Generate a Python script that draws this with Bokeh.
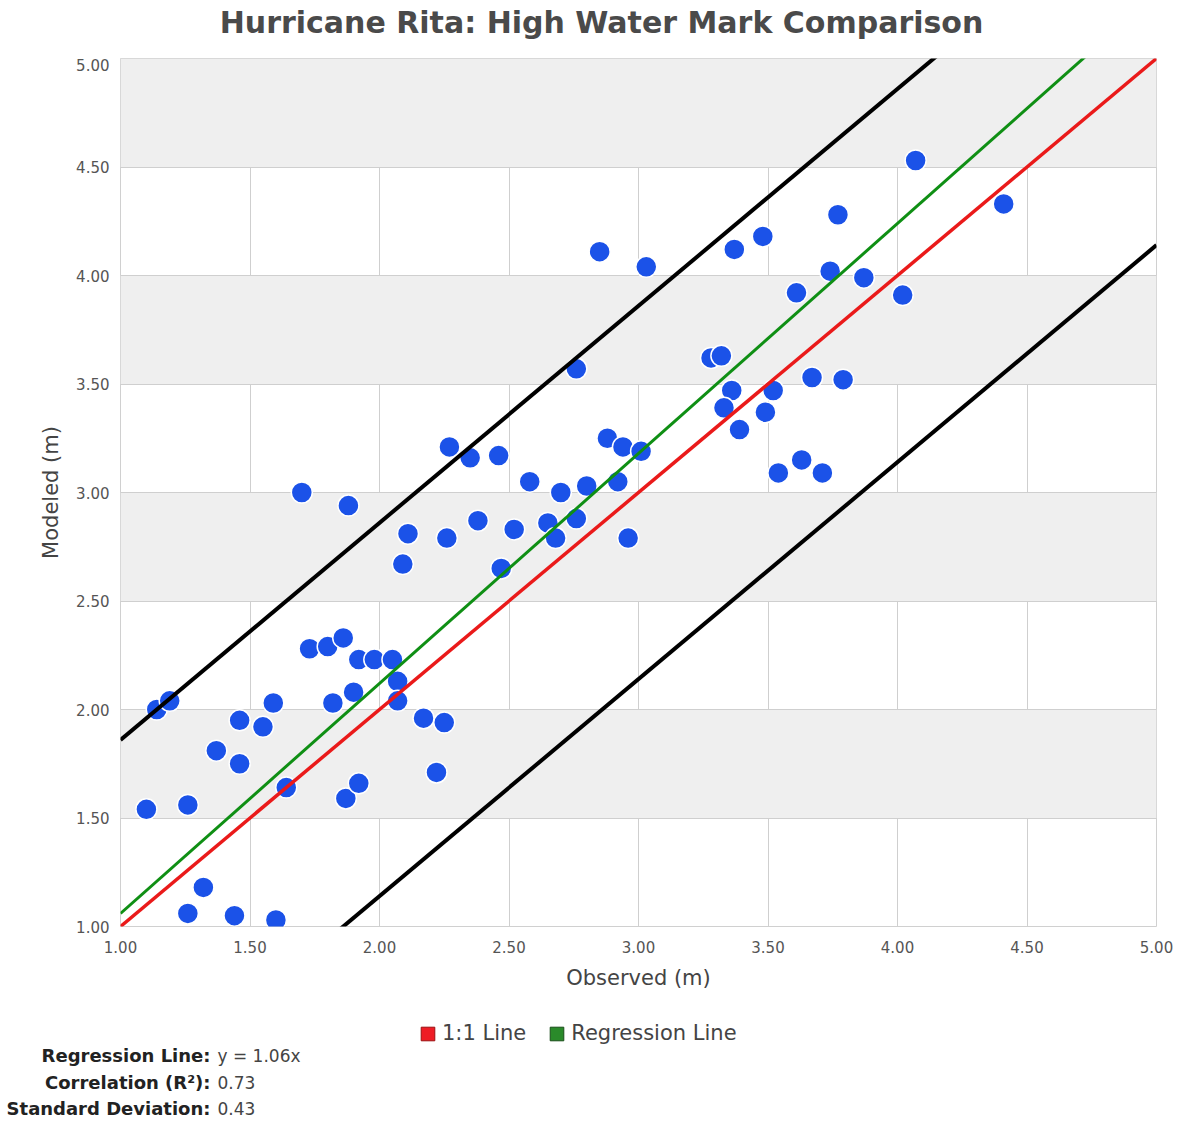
from bokeh.plotting import figure
from bokeh.layouts import column
from bokeh.models import (ColumnDataSource, Legend, LegendItem, Range1d,
                          FixedTicker, NumeralTickFormatter)
from bokeh.core.properties import value
from bokeh.embed import file_html
from bokeh.resources import INLINE

# ---------------- data ----------------
observed = [1.10, 1.14, 1.19, 1.26, 1.37, 1.46, 1.46, 1.55, 1.59, 1.64,
            1.32, 1.26, 1.44, 1.60, 1.73, 1.80, 1.86, 1.92, 1.98, 2.05,
            2.07, 2.07, 1.82, 1.90, 1.87, 1.92, 2.17, 2.25, 2.22,
            1.70, 1.88, 2.09, 2.11, 2.26, 2.27, 2.35, 2.46, 2.38, 2.47,
            2.52, 2.58, 2.65, 2.68, 2.70, 2.76, 2.80, 2.92, 2.96, 2.88,
            2.94, 3.01, 2.76,
            2.85, 3.03, 3.28, 3.32, 3.36, 3.33, 3.39, 3.49, 3.52, 3.37,
            3.48, 3.54, 3.63, 3.71, 3.61, 3.67, 3.79, 3.74, 3.77, 3.87,
            4.02, 4.07, 4.41]
modeled = [1.54, 2.00, 2.04, 1.56, 1.81, 1.75, 1.95, 1.92, 2.03, 1.64,
           1.18, 1.06, 1.05, 1.03, 2.28, 2.29, 2.33, 2.23, 2.23, 2.23,
           2.13, 2.04, 2.03, 2.08, 1.59, 1.66, 1.96, 1.94, 1.71,
           3.00, 2.94, 2.67, 2.81, 2.79, 3.21, 3.16, 3.17, 2.87, 2.65,
           2.83, 3.05, 2.86, 2.79, 3.00, 2.88, 3.03, 3.05, 2.79, 3.25,
           3.21, 3.19, 3.57,
           4.11, 4.04, 3.62, 3.63, 3.47, 3.39, 3.29, 3.37, 3.47, 4.12,
           4.18, 3.09, 3.15, 3.09, 3.92, 3.53, 3.52, 4.02, 4.28, 3.99,
           3.91, 4.53, 4.33]

x_ticks = [1.0, 1.5, 2.0, 2.5, 3.0, 3.5, 4.0, 4.5, 5.0]
y_ticks = [1.0, 1.5, 2.0, 2.5, 3.0, 3.5, 4.0, 4.5, 5.0]
axis_min, axis_max = 1.0, 5.0

regression_slope = 1.06
correlation_r2 = 0.73
std_deviation = 0.43
envelope = 2 * std_deviation

title_text = "Hurricane Rita: High Water Mark Comparison"
legend_labels = ["1:1 Line", "Regression Line"]
stats_labels = ["Regression Line:", "Correlation (R²):", "Standard Deviation:"]
stats_values = [f"y = {regression_slope:.2f}x", f"{correlation_r2:.2f}", f"{std_deviation:.2f}"]

FONT = "DejaVu Sans"
W = 1175
TITLE_H = 58


def strip(height, y_top, y_bottom):
    f = figure(width=W, height=height, x_range=Range1d(0, W),
               y_range=Range1d(y_bottom, y_top), output_backend="svg",
               toolbar_location=None, min_border=0,
               x_axis_location=None, y_axis_location=None)
    f.xgrid.visible = False
    f.ygrid.visible = False
    f.outline_line_color = None
    f.background_fill_color = "white"
    f.border_fill_color = "white"
    f.frame_align = False
    return f


# ---------------- title strip ----------------
t = strip(TITLE_H, 0, TITLE_H)
t.text(x=[601], y=[22], text=[title_text], text_align="center",
       text_baseline="middle", text_font=value(FONT), text_font_style="bold",
       text_font_size="30px", text_color="#4a4a4a")

# ---------------- main chart ----------------
p = figure(width=W, height=1005 - TITLE_H,
           x_range=Range1d(axis_min, axis_max), y_range=Range1d(axis_min, axis_max),
           output_backend="svg", toolbar_location=None,
           min_border_left=120, min_border_right=19,
           min_border_top=0, min_border_bottom=79)
p.frame_align = False
p.background_fill_color = "white"
p.border_fill_color = "white"
p.outline_line_color = "#d0d0d0"

for ax in (p.xaxis[0], p.yaxis[0]):
    ax.formatter = NumeralTickFormatter(format="0.00")
    ax.axis_line_color = None
    ax.major_tick_line_color = None
    ax.minor_tick_line_color = None
    ax.major_label_text_font = FONT
    ax.major_label_text_font_size = "15px"
    ax.major_label_text_color = "#555555"
    ax.axis_label_text_font = FONT
    ax.axis_label_text_font_size = "21px"
    ax.axis_label_text_font_style = "normal"
    ax.axis_label_text_color = "#444444"
p.xaxis[0].ticker = FixedTicker(ticks=x_ticks)
p.yaxis[0].ticker = FixedTicker(ticks=y_ticks)
p.xaxis[0].axis_label = "Observed (m)"
p.yaxis[0].axis_label = "Modeled (m)"
p.xaxis[0].major_label_standoff = 8
p.yaxis[0].major_label_standoff = 5
p.xaxis[0].axis_label_standoff = 10
p.yaxis[0].axis_label_standoff = 10

p.xgrid[0].ticker = FixedTicker(ticks=x_ticks)
p.ygrid[0].ticker = FixedTicker(ticks=y_ticks)
for g in (p.xgrid[0], p.ygrid[0]):
    g.grid_line_color = "#cfcfcf"
    g.grid_line_width = 1
p.ygrid[0].band_fill_color = "#efefef"
p.ygrid[0].band_fill_alpha = 1.0

src = ColumnDataSource(dict(x=observed, y=modeled))
p.scatter("x", "y", source=src, size=21, marker="circle",
          fill_color="#1b52e8", line_color="white", line_width=1.5)

lx = [axis_min, axis_max]
p.line(lx, [v + envelope for v in lx], line_color="black", line_width=4)
p.line(lx, [v - envelope for v in lx], line_color="black", line_width=4)
p.line(lx, [regression_slope * v for v in lx], line_color="#0f8f14", line_width=3)
p.line(lx, [v for v in lx], line_color="#ea1a1a", line_width=3.5)

# ---------------- legend & statistics strip ----------------
TOP, BOTTOM = 1005, 1118
q = strip(BOTTOM - TOP, TOP, BOTTOM)

nan = float("nan")
swatch = ColumnDataSource(dict(left=[nan], right=[nan], top=[nan], bottom=[nan]))
r_red = q.quad(left="left", right="right", top="top", bottom="bottom", source=swatch,
               fill_color="#ee1c25", line_color="#9a1010", line_width=1)
r_green = q.quad(left="left", right="right", top="top", bottom="bottom", source=swatch,
                 fill_color="#2a8a2a", line_color="#1a4d1a", line_width=1)
legend = Legend(items=[LegendItem(label=legend_labels[0], renderers=[r_red], index=0),
                       LegendItem(label=legend_labels[1], renderers=[r_green], index=0)],
                location=(419, BOTTOM - 1045), orientation="horizontal",
                glyph_width=17, glyph_height=17, label_standoff=6, spacing=22,
                padding=0, margin=0, border_line_color=None,
                background_fill_alpha=0,
                label_text_font=FONT, label_text_font_size="21px",
                label_text_color="#444444", label_height=22)
q.add_layout(legend, "center")

stat_y = [1055, 1081.5, 1108]
q.text(x=[210] * 3, y=stat_y, text=stats_labels, text_align="right",
       text_baseline="middle", text_font=value(FONT), text_font_style="bold",
       text_font_size="18px", text_color="#222222")
q.text(x=[217] * 3, y=stat_y, text=stats_values, text_align="left",
       text_baseline="middle", text_font=value(FONT),
       text_font_size="17px", text_color="#444444")

layout = column(t, p, q, spacing=0)
open("out.html", "w").write(file_html(layout, INLINE))
